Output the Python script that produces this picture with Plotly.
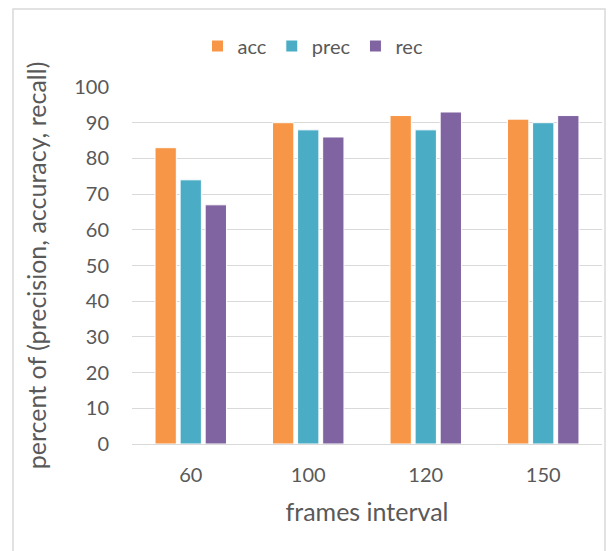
import plotly.graph_objects as go

categories = ["60", "100", "120", "150"]
acc = [83, 90, 92, 91]
prec = [74, 88, 88, 90]
rec = [67, 86, 93, 92]
y_ticks = [0, 10, 20, 30, 40, 50, 60, 70, 80, 90, 100]

colors = {"acc": "#F79646", "prec": "#4BACC6", "rec": "#8064A2"}
font_family = "Lato, Open Sans, sans-serif"
text_color = "#595959"

fig = go.Figure()
for name, vals in [("acc", acc), ("prec", prec), ("rec", rec)]:
    fig.add_trace(go.Bar(
        name=name, x=categories, y=vals,
        marker=dict(color=colors[name], line=dict(color="white", width=1)),
    ))

W, H = 609, 551
L, R, T, B = 132, 7, 87, 107
pw = W - L - R
ph = H - T - B

def px_x(px):
    return (px - L) / pw

def px_y(py):
    return (H - B - py) / ph

fig.update_layout(
    width=W, height=H,
    margin=dict(l=L, r=R, t=T, b=B),
    plot_bgcolor="white", paper_bgcolor="white",
    barmode="group", bargap=0.36, bargroupgap=0.15,
    font=dict(family=font_family, color=text_color, size=20),
    legend=dict(orientation="h", x=px_x(313), xanchor="center",
                y=px_y(46), yanchor="middle",
                font=dict(size=20, color=text_color),
                itemwidth=30, traceorder="normal"),
    xaxis=dict(
        title=dict(text="frames interval", font=dict(size=25, color=text_color), standoff=18),
        showline=True, linecolor="#D9D9D9", linewidth=1,
        tickfont=dict(size=20, color=text_color),
        ticks="", showgrid=False, ticklabelstandoff=13,
    ),
    yaxis=dict(
        title=dict(text="percent of (precision, accuracy, recall)",
                   font=dict(size=25, color=text_color), standoff=20),
        range=[0, 100], tickvals=y_ticks,
        showgrid=True, gridcolor="#D9D9D9", gridwidth=1,
        zeroline=False, showline=False,
        tickfont=dict(size=20, color=text_color),
        ticks="", ticklabelstandoff=22,
    ),
    shapes=[dict(type="rect", xref="paper", yref="paper",
                 x0=px_x(13), x1=px_x(605), y0=px_y(560), y1=px_y(9),
                 line=dict(color="#D9D9D9", width=1.5), layer="below")],
)

fig.write_html("out.html", config={"displayModeBar": False},
               post_script="document.body.style.margin='0';")
